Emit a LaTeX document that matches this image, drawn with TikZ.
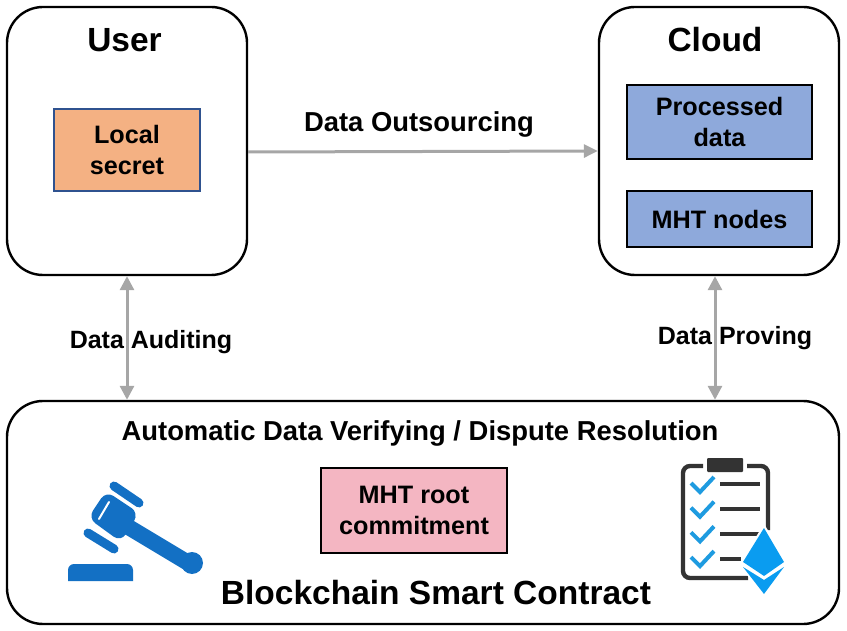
\documentclass[tikz,border=0pt]{standalone}
\usepackage{fontspec}
\setmainfont{Liberation Sans}
\usetikzlibrary{arrows.meta}
\definecolor{arrowgrey}{HTML}{A6A6A6}
\definecolor{boxorange}{HTML}{F4B183}
\definecolor{boxblue}{HTML}{8EA9DB}
\definecolor{boxpink}{HTML}{F4B6C2}
\definecolor{edgeblue}{HTML}{2F528F}
\definecolor{gavelblue}{HTML}{1370C4}
\definecolor{checkblue}{HTML}{1E9BE0}
\definecolor{ethblue}{HTML}{0A9CF0}
\definecolor{clipgrey}{HTML}{333333}
\tikzset{
  panel/.style={draw=black,line width=2.4pt,rounded corners=36pt,fill=white,inner sep=0pt},
  inbox/.style={line width=1.3pt,inner sep=0pt,align=center,font=\fontsize{25.2}{31}\selectfont\bfseries},
  title/.style={font=\fontsize{33.5}{38}\selectfont\bfseries,inner sep=0pt},
  lab/.style={font=\fontsize{25}{30}\selectfont\bfseries,inner sep=0pt},
  biglab/.style={font=\fontsize{27.4}{30}\selectfont\bfseries,inner sep=0pt},
  link/.style={draw=arrowgrey,line width=3pt,-{Triangle[length=14pt,width=13pt]}},
  twolink/.style={draw=arrowgrey,line width=3pt,{Triangle[length=14pt,width=14pt]}-{Triangle[length=14pt,width=14pt]}},
}
\begin{document}
\begin{tikzpicture}[x=1pt,y=-1pt]
\useasboundingbox (0,0) rectangle (847,631);
\node[panel,minimum width=240pt,minimum height=268pt] (user) at (127,141) {};
\node[panel,minimum width=240pt,minimum height=268pt] (cloud) at (719,141) {};
\node[panel,minimum width=832pt,minimum height=223pt] (chain) at (423,512.5) {};
\node[title] (usert) at (124.5,40) {User};
\node[title] (cloudt) at (715,40) {Cloud};
\node[inbox,draw=edgeblue,fill=boxorange,minimum width=146pt,minimum height=82pt] (secret) at (127,150) {Local\\secret};
\node[inbox,draw=black,fill=boxblue,minimum width=185pt,minimum height=74pt] (processed) at (719.5,122) {Processed\\data};
\node[inbox,draw=black,fill=boxblue,minimum width=185pt,minimum height=56pt] (nodes) at (719.5,219) {MHT nodes};
\node[inbox,draw=black,fill=boxpink,minimum width=186pt,minimum height=85pt] (root) at (414,510.5) {MHT root\\commitment};
\node[biglab] (outs) at (419,124) {Data Outsourcing};
\node[lab] (aud) at (151,342) {Data Auditing};
\node[lab] (prov) at (735,338) {Data Proving};
\node[biglab] (verify) at (420,433) {Automatic Data Verifying / Dispute Resolution};
\node[title] (bsc) at (436,593) {Blockchain Smart Contract};
\draw[link] ([yshift=-11pt]user.east) -- ([yshift=-10pt]cloud.west);
\draw[twolink] (user.south) -- (user.south |- chain.north);
\draw[twolink] ([xshift=-4pt]cloud.south) -- ([xshift=-4pt]cloud.south |- chain.north);
% gavel
\fill[gavelblue] (68,581) [rounded corners=6pt] -- (68,564) -- (133,564) [sharp corners] -- (133,581) -- cycle;
\draw[gavelblue,line width=16pt] (120,522) -- (190,564);
\fill[gavelblue] (192,563) circle (11pt);
\fill[gavelblue,rounded corners=9pt] (106,491) -- (139,513) -- (121,542) -- (88,518) -- cycle;
\draw[white,line width=2pt,line cap=round] (109,502) -- (99,519);
\draw[gavelblue,line width=9pt,line cap=round] (114,486) -- (139,503);
\draw[gavelblue,line width=9pt,line cap=round] (88,533) -- (114,549);
% clipboard
\draw[clipgrey,line width=4.4pt,rounded corners=7pt] (703,466) -- (683,466) -- (683,578) -- (748,578);
\draw[clipgrey,line width=4.4pt,rounded corners=7pt] (747,466) -- (768,466) -- (768,530);
\fill[clipgrey,rounded corners=1pt] (707,458) rectangle (743,472);
\foreach \yy in {0,24.7,49.4,74.1}{
  \draw[checkblue,line width=4pt] (691,483+\yy) -- (700,492+\yy) -- (714,477+\yy);
}
\foreach \yy in {484,509,534}{
  \draw[clipgrey,line width=4pt] (720,\yy) -- (760,\yy);
}
\draw[clipgrey,line width=4pt] (720,559) -- (741,559);
\fill[white] (764,524) -- (789,564) -- (764,598) -- (739,564) -- cycle;
\fill[ethblue] (764,528) -- (784,562) -- (764,576) -- (743,562) -- cycle;
\fill[ethblue] (743,567) -- (764,580) -- (784,567) -- (764,594) -- cycle;
\end{tikzpicture}
\end{document}
